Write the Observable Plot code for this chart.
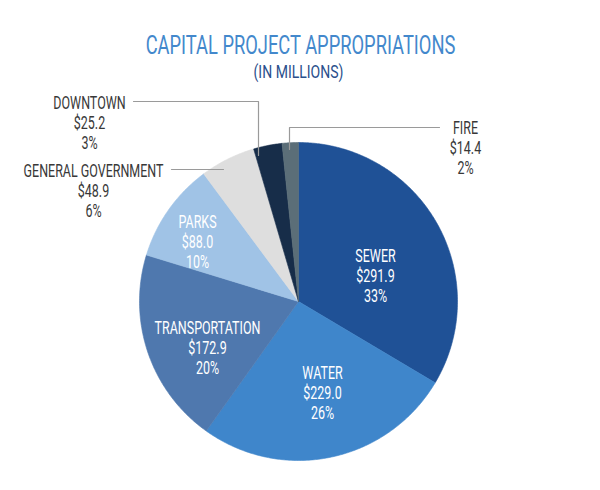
<!DOCTYPE html>
<html>
<head>
<meta charset="utf-8">
<script src="https://cdn.jsdelivr.net/npm/d3@7"></script>
<script src="https://cdn.jsdelivr.net/npm/@observablehq/plot@0.6"></script>
<style>
  html, body { margin: 0; padding: 0; background: #fff; }
  #chart svg { display: block; }
</style>
</head>
<body>
<div id="chart"></div>
<script>
// ---- data ----
const categories = ["SEWER", "WATER", "TRANSPORTATION", "PARKS", "GENERAL GOVERNMENT", "DOWNTOWN", "FIRE"];
const values = [291.9, 229.0, 172.9, 88.0, 48.9, 25.2, 14.4];
const percents = [33, 26, 20, 10, 6, 3, 2];
const titleText = "CAPITAL PROJECT APPROPRIATIONS";
const subtitleText = "(IN MILLIONS)";

// ---- styles / layout ----
const colors = ["#1f5196", "#3f86cb", "#4f78ae", "#a0c3e6", "#dedede", "#172d49", "#5b6e78"];
const insideLabel = [true, true, true, true, false, false, false];
const labelPos = [[375, 275], [322, 392], [207, 347], [197, 241], [93, 190], [89, 122], [465, 147]];
const leaders = [
  {name: "DOWNTOWN", pts: [[133, 101], [258, 101], [258, 155]]},
  {name: "GENERAL GOVERNMENT", pts: [[171, 169], [223, 169]]},
  {name: "FIRE", pts: [[439, 127], [289, 127], [289, 149]]}
];
const cx = 298, cy = 301, R = 159;
const W = 600, H = 490;
const font = "Roboto, 'DejaVu Sans Condensed', sans-serif";

// slice polygons from d3.pie
const arcs = d3.pie().sort(null).value(d => d)(values);
const slicePts = [];
arcs.forEach((a, i) => {
  const c = categories[i];
  slicePts.push({cat: c, x: cx, y: cy});
  const n = Math.max(4, Math.ceil((a.endAngle - a.startAngle) / 0.01));
  for (let k = 0; k <= n; k++) {
    const ang = a.startAngle + (a.endAngle - a.startAngle) * k / n;
    slicePts.push({cat: c, x: cx + R * Math.sin(ang), y: cy - R * Math.cos(ang)});
  }
  slicePts.push({cat: c, x: cx, y: cy});
});

const labels = categories.map((c, i) => ({
  cat: c,
  text: `${c}\n$${values[i].toFixed(1)}\n${percents[i]}%`,
  x: labelPos[i][0],
  y: labelPos[i][1],
  inside: insideLabel[i]
}));

const leaderPts = leaders.flatMap(l => l.pts.map(p => ({name: l.name, x: p[0], y: p[1]})));

const LFS = 18;
const plot = Plot.plot({
  width: W,
  height: H,
  margin: 0,
  x: {domain: [0, W], range: [0, W], axis: null},
  y: {domain: [0, H], range: [0, H], axis: null},
  color: {type: "ordinal", domain: categories, range: colors},
  style: {fontFamily: font, background: "#fff"},
  marks: [
    Plot.line(slicePts, {x: "x", y: "y", z: "cat", fill: "cat", stroke: "cat", strokeWidth: 0.6, curve: "linear"}),
    Plot.line(leaderPts, {x: "x", y: "y", z: "name", stroke: "#9a9a9a", strokeWidth: 1.2, curve: "linear"}),
    Plot.text(labels.filter(d => d.inside), {x: "x", y: "y", text: "text", fill: "#ffffff", fontSize: LFS, fontWeight: 400, lineHeight: 20 / LFS, fontFamily: font}),
    Plot.text(labels.filter(d => !d.inside), {x: "x", y: "y", text: "text", fill: "#383838", fontSize: LFS, fontWeight: 400, lineHeight: 20 / LFS, fontFamily: font}),
    Plot.text([titleText], {x: () => 300, y: () => 45, text: d => d, fill: "#4388cc", fontSize: 26.5, fontFamily: font}),
    Plot.text([subtitleText], {x: () => 298, y: () => 72, text: d => d, fill: "#2a4f8c", fontSize: 18, fontFamily: font})
  ]
});

document.getElementById("chart").appendChild(plot);

// condense text horizontally to mimic the narrow display face
const texts = Array.from(plot.querySelectorAll("text"));
function firstLen(t) {
  const ts = t.querySelector("tspan");
  return (ts || t).getComputedTextLength();
}
let sl = 0.75, st = 0.77, ss = 0.77;
texts.forEach(t => {
  const s = (t.querySelector("tspan") || t).textContent;
  if (s === "GENERAL GOVERNMENT") sl = 140 / firstLen(t);
  if (s === titleText) st = 310 / firstLen(t);
  if (s === subtitleText) ss = 90 / firstLen(t);
});
texts.forEach(t => {
  const s = t.textContent;
  const k = s === titleText ? st : s === subtitleText ? ss : sl;
  const tr = t.getAttribute("transform") || "";
  if (tr) t.setAttribute("transform", tr + ` scale(${k},1)`);
  else {
    const x = +t.getAttribute("x") || 0, y = +t.getAttribute("y") || 0;
    t.setAttribute("transform", `translate(${x},${y}) scale(${k},1) translate(${-x},${-y})`);
  }
});
</script>
</body>
</html>
